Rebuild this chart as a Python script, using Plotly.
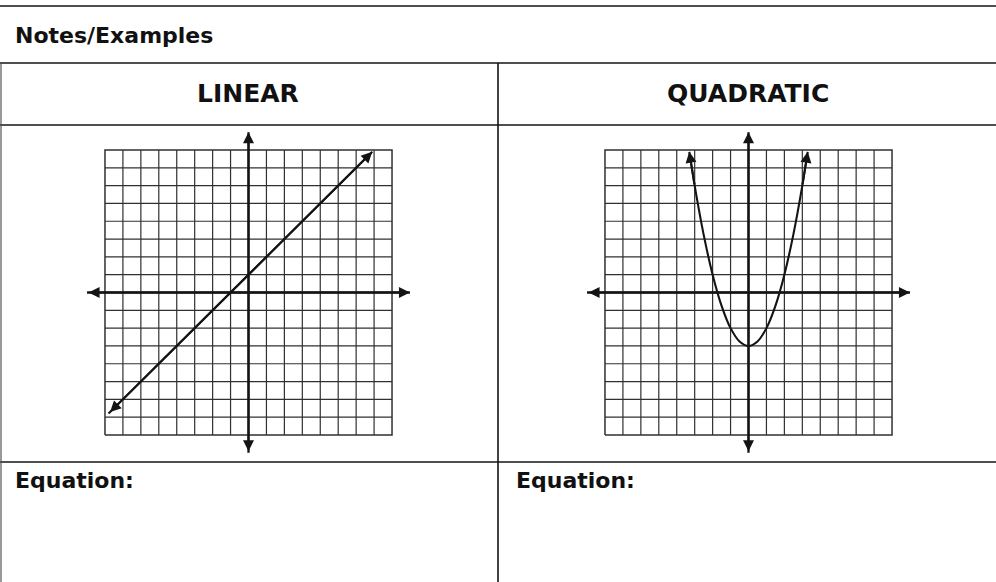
import plotly.graph_objects as go

# ---------------- data ----------------
header_text = "Notes/Examples"
panel_titles = ["LINEAR", "QUADRATIC"]
equation_label = "Equation:"

grid_ticks = list(range(-8, 9))          # grid lines at every unit, -8 .. 8
axis_extent = [-9, 9]                    # arrowed axes reach a bit past the grid

linear_x = [-7.8, 6.9]                   # y = x + 1, arrow at both ends
linear_y = [-6.8, 7.9]

quad_x = [-3.3, -3.0, -2.5, -2.0, -1.5, -1.0, -0.5, 0.0, 0.5, 1.0, 1.5, 2.0, 2.5, 3.0, 3.3]
quad_y = [7.9, 6.0, 3.25, 1.0, -0.75, -2.0, -2.75, -3.0, -2.75, -2.0, -0.75, 1.0, 3.25, 6.0, 7.9]

# ---------------- layout geometry (pixels) ----------------
W, H = 996, 582
FONT = "'DejaVu Sans', Verdana, sans-serif"
INK = "#141414"
GRID = "#303030"

R = 9.5                       # half range of each small plot
ux, uy = 17.94, 17.81         # pixels per unit
centers = [(248.5, 292.5), (748.5, 292.5)]


def px(x):
    return x / W


def py(y):
    return 1 - y / H


fig = go.Figure()

lay_axes = {}
for i, (cx, cy) in enumerate(centers):
    n = "" if i == 0 else str(i + 1)
    x0, x1 = cx - R * ux, cx + R * ux
    y0, y1 = cy - R * uy, cy + R * uy
    lay_axes["xaxis" + n] = dict(domain=[px(x0), px(x1)], range=[-R, R], visible=False,
                                 fixedrange=True, anchor="y" + n)
    lay_axes["yaxis" + n] = dict(domain=[py(y1), py(y0)], range=[-R, R], visible=False,
                                 fixedrange=True, anchor="x" + n)


def grid_traces(xa, ya):
    lo, hi = grid_ticks[0], grid_ticks[-1]
    gx, gy = [], []
    for t in grid_ticks[1:-1]:
        if t == 0:
            continue
        gx += [t, t, None, lo, hi, None]
        gy += [lo, hi, None, t, t, None]
    fig.add_trace(go.Scatter(x=gx, y=gy, mode="lines", xaxis=xa, yaxis=ya,
                             line=dict(color=GRID, width=1.2), hoverinfo="skip",
                             showlegend=False))
    # outer border of the grid
    bx = [lo, hi, hi, lo, lo]
    by = [lo, lo, hi, hi, lo]
    fig.add_trace(go.Scatter(x=bx, y=by, mode="lines", xaxis=xa, yaxis=ya,
                             line=dict(color=GRID, width=1.5), hoverinfo="skip",
                             showlegend=False))
    # coordinate axes
    ax_x = [axis_extent[0], axis_extent[1], None, 0, 0]
    ax_y = [0, 0, None, axis_extent[0], axis_extent[1]]
    fig.add_trace(go.Scatter(x=ax_x, y=ax_y, mode="lines", xaxis=xa, yaxis=ya,
                             line=dict(color=INK, width=2.3), hoverinfo="skip",
                             showlegend=False))


annotations = []


def axis_arrows(xa, ya):
    for (hx, hy, tx, ty) in [(axis_extent[1], 0, axis_extent[0], 0),
                             (0, axis_extent[1], 0, axis_extent[0])]:
        annotations.append(dict(x=hx, y=hy, ax=tx, ay=ty, xref=xa, yref=ya,
                                axref=xa, ayref=ya, text="", showarrow=True,
                                arrowside="end+start", arrowhead=2, arrowsize=1.1,
                                arrowwidth=2, arrowcolor=INK))


# linear panel
grid_traces("x", "y")
axis_arrows("x", "y")
fig.add_trace(go.Scatter(x=linear_x, y=linear_y, mode="lines", xaxis="x", yaxis="y",
                         line=dict(color=INK, width=2.1), hoverinfo="skip", showlegend=False))
annotations.append(dict(x=linear_x[1], y=linear_y[1], ax=linear_x[0], ay=linear_y[0],
                        xref="x", yref="y", axref="x", ayref="y", text="", showarrow=True,
                        arrowside="end+start", arrowhead=2, arrowsize=1.1, arrowwidth=2,
                        arrowcolor=INK))

# quadratic panel
grid_traces("x2", "y2")
axis_arrows("x2", "y2")
fig.add_trace(go.Scatter(x=quad_x, y=quad_y, mode="lines", xaxis="x2", yaxis="y2",
                         line=dict(color=INK, width=2.1, shape="spline", smoothing=0.8),
                         hoverinfo="skip", showlegend=False))
for (hi_i, tail_i) in [(0, 1), (-1, -2)]:
    annotations.append(dict(x=quad_x[hi_i], y=quad_y[hi_i], ax=quad_x[tail_i], ay=quad_y[tail_i],
                            xref="x2", yref="y2", axref="x2", ayref="y2", text="",
                            showarrow=True, arrowhead=2, arrowsize=1.1, arrowwidth=2,
                            arrowcolor=INK))

# ---------------- texts ----------------
annotations.append(dict(text="<b>" + header_text + "</b>", x=px(13), y=py(35),
                        xref="paper", yref="paper", xanchor="left", yanchor="middle",
                        showarrow=False, font=dict(family=FONT, size=22, color="#111")))
for title, cx in zip(panel_titles, [247.5, 747.5]):
    annotations.append(dict(text="<b>" + title + "</b>", x=px(cx), y=py(94),
                            xref="paper", yref="paper", xanchor="center", yanchor="middle",
                            showarrow=False, font=dict(family=FONT, size=25, color="#111")))
for lx in [13, 514]:
    annotations.append(dict(text="<b>" + equation_label + "</b>", x=px(lx), y=py(481),
                            xref="paper", yref="paper", xanchor="left", yanchor="middle",
                            showarrow=False, font=dict(family=FONT, size=22, color="#111")))

# ---------------- table rules ----------------
shapes = []
for yline in [6, 63, 125, 462]:
    shapes.append(dict(type="line", xref="paper", yref="paper", x0=0, x1=1,
                       y0=py(yline), y1=py(yline), line=dict(color=INK, width=1.6)))
shapes.append(dict(type="line", xref="paper", yref="paper", x0=px(498), x1=px(498),
                   y0=py(63), y1=0, line=dict(color=INK, width=1.6)))
shapes.append(dict(type="line", xref="paper", yref="paper", x0=px(1), x1=px(1),
                   y0=py(63), y1=0, line=dict(color="#555", width=1.2)))

fig.update_layout(width=W, height=H, autosize=False,
                  margin=dict(l=0, r=0, t=0, b=0),
                  paper_bgcolor="white", plot_bgcolor="rgba(0,0,0,0)",
                  showlegend=False, annotations=annotations, shapes=shapes,
                  **lay_axes)

fig.write_html("out.html", config={"displayModeBar": False},
               post_script="document.body.style.margin='0';document.body.style.overflow='hidden';")
